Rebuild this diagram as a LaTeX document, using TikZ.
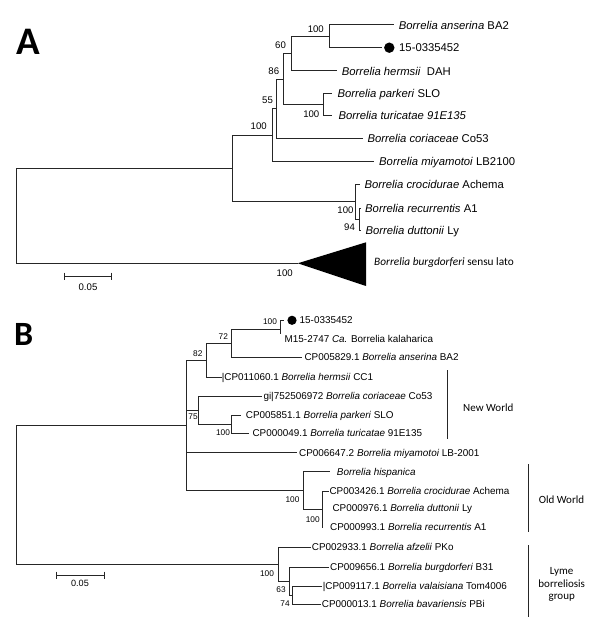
\documentclass[tikz,border=0pt]{standalone}
\usepackage{fontspec}
\setmainfont{Liberation Sans}
\newfontfamily\carl{Carlito}
\begin{document}
\begin{tikzpicture}[x=1pt,y=-1pt]
\tikzset{
 br/.style={line width=1pt, draw=black!85},
 lfA/.style={anchor=base west, inner sep=0pt, yshift=-4.1pt, font=\fontsize{11.3}{13}\selectfont},
 lfB/.style={anchor=base west, inner sep=0pt, yshift=-3.6pt, font=\fontsize{9.9}{12}\selectfont},
 bsA/.style={inner sep=0pt, font=\fontsize{9.6}{11}\selectfont},
 bsB/.style={inner sep=0pt, font=\fontsize{8.3}{10}\selectfont},
 grp/.style={inner sep=0pt, align=center, font=\carl\fontsize{11}{12.5}\selectfont},
 panel/.style={anchor=base west, inner sep=0pt}
}
\useasboundingbox (0,0) rectangle (600,636);
\fill[white] (0,0) rectangle (600,636);

% ---------------- Panel A ----------------
\node[panel, font=\carl\bfseries\fontsize{39}{40}\selectfont] (labA) at (16.5,55) {A};
\coordinate (rA) at (16.7,215.9);
\coordinate (X1) at (232.7,168.5);
\coordinate (triT) at (297.7,263.3);
\coordinate (triU) at (366,242.3);
\coordinate (triL) at (366,286);
\coordinate (B100) at (272.7,135.3);
\coordinate (CR) at (355.7,202);
\coordinate (N55) at (276.7,108.9);
\coordinate (lmiyA) at (374,161.7);
\coordinate (N86) at (283.3,79.5);
\coordinate (lcorA) at (363.3,138.3);
\coordinate (N60) at (291.7,54);
\coordinate (PT) at (323,104.7);
\coordinate (AN) at (329,36.5);
\coordinate (lherA) at (337.3,71);
\coordinate (lansA) at (394,25);
\coordinate (l15A) at (381.7,48);
\coordinate (lparA) at (331.7,93.7);
\coordinate (lturA) at (331.7,115.7);
\coordinate (lcroA) at (360,185);
\coordinate (RD) at (359.3,219);
\coordinate (lrecA) at (360.7,208.3);
\coordinate (ldutA) at (360.7,230);

\foreach \p/\c in {rA/X1, rA/triT, X1/B100, X1/CR, B100/N55, B100/lmiyA, N55/N86, N55/lcorA,
  N86/N60, N86/PT, N60/AN, N60/lherA, AN/lansA, AN/l15A, PT/lparA, PT/lturA, CR/lcroA, CR/RD,
  RD/lrecA, RD/ldutA}
  \draw[br] (\p) |- (\c);
\fill (triT) -- (triU) -- (triL) -- cycle;

\coordinate (dotA) at (389.3,47.7);
\fill (dotA) circle (5.2);
\node[lfA] (tansA) at (398.7,25) {\textit{Borrelia anserina} BA2};
\node[lfA] (t15A) at (399,47.7) {15-0335452};
\node[lfA] (therA) at (341.7,71) {\textit{Borrelia hermsii}\ \ DAH};
\node[lfA] (tparA) at (337.3,93.7) {\textit{Borrelia parkeri} SLO};
\node[lfA] (tturA) at (338.3,115.7) {\textit{Borrelia turicatae 91E135}};
\node[lfA] (tcorA) at (367.3,138.3) {\textit{Borrelia coriaceae} Co53};
\node[lfA] (tmiyA) at (379,161.7) {\textit{Borrelia miyamotoi} LB2100};
\node[lfA] (tcroA) at (364.3,184.3) {\textit{Borrelia crocidurae} Achema};
\node[lfA] (trecA) at (365,208.3) {\textit{Borrelia recurrentis} A1};
\node[lfA] (tdutA) at (365.3,230) {\textit{Borrelia duttonii} Ly};
\node[lfA, font=\carl\fontsize{11.3}{13}\selectfont] (tburA) at (374,261) {\textit{Borrelia burgdorferi} sensu lato};

\node[bsA] (bA1) at (315.8,29) {100};
\node[bsA] (bA2) at (280.5,45) {60};
\node[bsA] (bA3) at (273.8,71) {86};
\node[bsA] (bA4) at (267.5,100.7) {55};
\node[bsA] (bA5) at (258.7,126) {100};
\node[bsA] (bA6) at (311.3,114.3) {100};
\node[bsA] (bA7) at (345.5,210.5) {100};
\node[bsA] (bA8) at (349.5,227) {94};
\node[bsA] (bA9) at (284.7,272.7) {100};

\coordinate (sA1) at (64,276);
\coordinate (sA2) at (111.3,276);
\draw[br] (sA1) -- (sA2);
\draw[br] ([yshift=3.5pt]sA1) -- ([yshift=-3.5pt]sA1);
\draw[br] ([yshift=3.5pt]sA2) -- ([yshift=-3.5pt]sA2);
\node[bsA] (scA) at (88,287.5) {0.05};

% ---------------- Panel B ----------------
\node[panel, font=\carl\bfseries\fontsize{34}{36}\selectfont] (labB) at (14,345) {B};
\coordinate (rB) at (16.7,494.8);
\coordinate (Y1) at (186.3,425.3);
\coordinate (L) at (278.8,564.3);
\coordinate (N82) at (206,360.3);
\coordinate (N75) at (198.7,410.2);
\coordinate (lmiyB) at (296.7,452.7);
\coordinate (OW) at (303.3,490.5);
\coordinate (N72) at (231,343.3);
\coordinate (lherB) at (221.7,377.3);
\coordinate (N100c) at (280.3,329.7);
\coordinate (lansB) at (301.7,357.3);
\coordinate (l15B) at (283.5,320.3);
\coordinate (lM15) at (280.3,333.5);
\coordinate (lcorB) at (261.7,396);
\coordinate (PTB) at (231.7,424.2);
\coordinate (lparB) at (240.7,415);
\coordinate (lturB) at (249,433.3);
\coordinate (lhisB) at (330,471.7);
\coordinate (OWs) at (322.3,509.7);
\coordinate (lcroB) at (329,491);
\coordinate (lrecB) at (322.3,528.3);
\coordinate (lafzB) at (311,547.3);
\coordinate (N63) at (289.3,581.3);
\coordinate (lburB) at (329,567.3);
\coordinate (N74) at (292.7,595.2);
\coordinate (lvalB) at (321.7,586);
\coordinate (lbavB) at (320.7,604.3);

\foreach \p/\c in {rB/Y1, rB/L, Y1/N82, Y1/N75, Y1/lmiyB, Y1/OW, N82/N72, N82/lherB,
  N72/N100c, N72/lansB, N100c/l15B, N75/lcorB, N75/PTB, PTB/lparB, PTB/lturB, OW/lhisB,
  OW/OWs, OWs/lcroB, L/lafzB, L/N63, N63/lburB, N63/N74, N74/lvalB, N74/lbavB}
  \draw[br] (\p) |- (\c);
\draw[br] (N100c) -- (lM15);
\draw[br] (OWs) -- (lrecB);

\coordinate (dotB) at (292,320.3);
\fill (dotB) circle (4.6);
\node[lfB] (t15B) at (299.5,320.3) {15-0335452};
\node[lfB] (tM15) at (284.5,339.3) {M15-2747 \textit{Ca.} Borrelia kalaharica};
\node[lfB] (tansB) at (304.3,357.3) {CP005829.1 \textit{Borrelia anserina} BA2};
\node[lfB] (therB) at (221.7,377.3) {|CP011060.1 \textit{Borrelia hermsii} CC1};
\node[lfB] (tcorB) at (263.3,396) {gi|752506972 \textit{Borrelia coriaceae} Co53};
\node[lfB] (tparB) at (245.7,415) {CP005851.1 \textit{Borrelia parkeri} SLO};
\node[lfB] (tturB) at (252.3,433.3) {CP000049.1 \textit{Borrelia turicatae} 91E135};
\node[lfB] (tmiyB) at (299,452.7) {CP006647.2 \textit{Borrelia miyamotoi} LB-2001};
\node[lfB] (thisB) at (336.7,471.7) {\textit{Borrelia hispanica}};
\node[lfB] (tcroB) at (329.3,491) {CP003426.1 \textit{Borrelia crocidurae} Achema};
\node[lfB] (tdutB) at (332.3,508.3) {CP000976.1 \textit{Borrelia duttonii} Ly};
\node[lfB] (trecB) at (330,526.7) {CP000993.1 \textit{Borrelia recurrentis} A1};
\node[lfB] (tafzB) at (311.7,547.3) {CP002933.1 \textit{Borrelia afzelii} PKo};
\node[lfB] (tburB) at (330,567.3) {CP009656.1 \textit{Borrelia burgdorferi} B31};
\node[lfB] (tvalB) at (322.7,586) {|CP009117.1 \textit{Borrelia valaisiana} Tom4006};
\node[lfB] (tbavB) at (321.7,604.3) {CP000013.1 \textit{Borrelia bavariensis} PBi};

\node[bsB] (bB1) at (270,322) {100};
\node[bsB] (bB2) at (223.3,336.7) {72};
\node[bsB] (bB3) at (197.8,353.3) {82};
\node[bsB] (bB4) at (193,416.7) {75};
\node[bsB] (bB5) at (223,432.7) {100};
\node[bsB] (bB6) at (292.5,499.3) {100};
\node[bsB] (bB7) at (312.8,519.3) {100};
\node[bsB] (bB8) at (267,573.3) {100};
\node[bsB] (bB9) at (281,589.3) {63};
\node[bsB] (bB10) at (285,604) {74};

\coordinate (sB1) at (56,575);
\coordinate (sB2) at (104.3,575);
\draw[br] (sB1) -- (sB2);
\draw[br] ([yshift=3.5pt]sB1) -- ([yshift=-3.5pt]sB1);
\draw[br] ([yshift=3.5pt]sB2) -- ([yshift=-3.5pt]sB2);
\node[bsB, font=\fontsize{9.1}{11}\selectfont] (scB) at (80,583.5) {0.05};

% group brackets
\coordinate (nw1) at (447.7,370);
\coordinate (nw2) at (447.7,439.3);
\draw[br] (nw1) -- (nw2);
\node[grp] (tnw) at (488.3,407.3) {New World};
\coordinate (ow1) at (528.3,464);
\coordinate (ow2) at (528.3,531.7);
\draw[br] (ow1) -- (ow2);
\node[grp] (tow) at (561.5,499.3) {Old World};
\coordinate (ly1) at (528.3,545);
\coordinate (ly2) at (528.3,616.7);
\draw[br] (ly1) -- (ly2);
\node[grp] (tly) at (561.7,584.5) {Lyme\\borreliosis\\group};
\end{tikzpicture}
\end{document}
